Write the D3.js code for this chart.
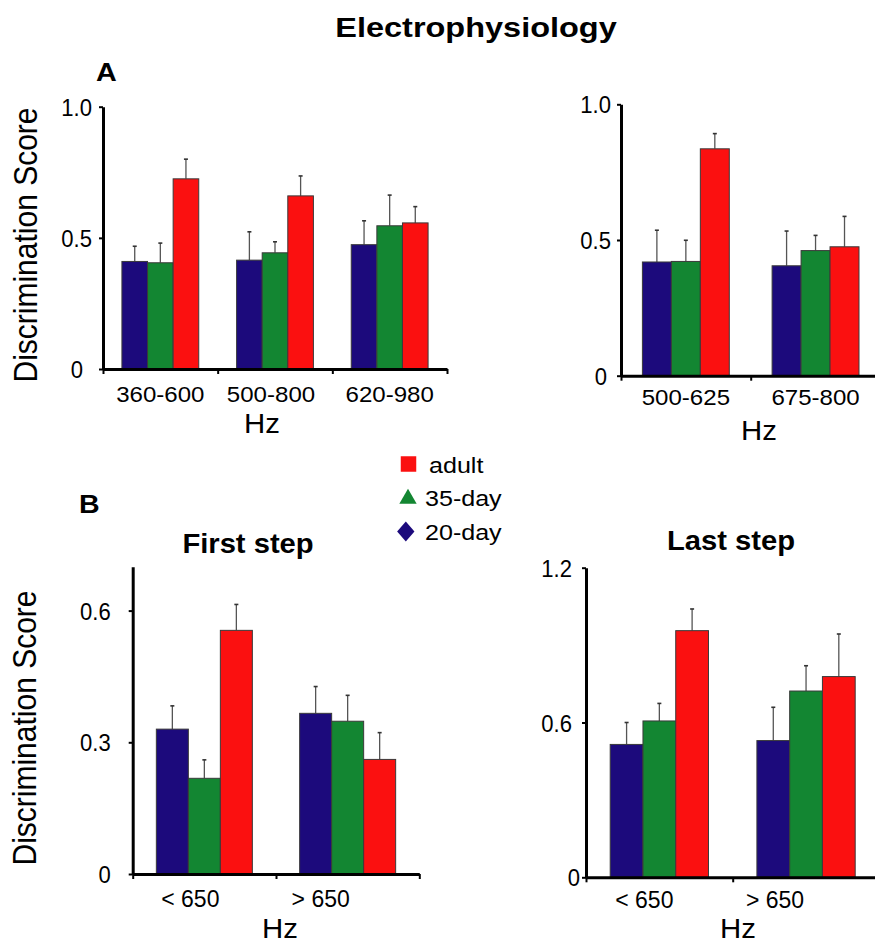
<!DOCTYPE html>
<html>
<head>
<meta charset="utf-8">
<script src="https://cdn.jsdelivr.net/npm/d3@7"></script>
<style>
  body { margin:0; background:#fff; }
  text { font-family: "Liberation Sans", Arial, sans-serif; fill:#000; }
</style>
</head>
<body>
<div id="chart"></div>
<script>
// groups drawn left to right inside each category
const groups = ["20-day", "35-day", "adult"];
const groupColors = ["#1c0a7c", "#138632", "#fb1010"];
const legendLabels = ["adult", "35-day", "20-day"];

// A, left panel
const aLeftCats = ["360-600", "500-800", "620-980"];
const aLeftMeans = [[0.41, 0.405, 0.725], [0.415, 0.443, 0.66], [0.474, 0.546, 0.557]];
const aLeftErrs  = [[0.058, 0.075, 0.075], [0.108, 0.042, 0.076], [0.091, 0.117, 0.062]];

// A, right panel
const aRightCats = ["500-625", "675-800"];
const aRightMeans = [[0.419, 0.421, 0.836], [0.405, 0.461, 0.475]];
const aRightErrs  = [[0.117, 0.078, 0.056], [0.128, 0.056, 0.112]];

// B, first step
const bLeftCats = ["< 650", "> 650"];
const bLeftMeans = [[0.33, 0.218, 0.555], [0.366, 0.348, 0.261]];
const bLeftErrs  = [[0.053, 0.042, 0.059], [0.061, 0.059, 0.061]];

// B, last step
const bRightCats = ["< 650", "> 650"];
const bRightMeans = [[0.515, 0.606, 0.956], [0.53, 0.722, 0.778]];
const bRightErrs  = [[0.085, 0.068, 0.084], [0.129, 0.098, 0.165]];

const aTicks = [0, 0.5, 1.0], aTickLabels = ["0", "0.5", "1.0"];
const bLeftTicks = [0, 0.3, 0.6], bLeftTickLabels = ["0", "0.3", "0.6"];
const bRightTicks = [0, 0.6, 1.2], bRightTickLabels = ["0", "0.6", "1.2"];

const panels = [
  {cats:aLeftCats, means:aLeftMeans, errs:aLeftErrs, ticks:aTicks, tickLabels:aTickLabels, max:1.0,
   x0:103, x1:447, yTop:106.7, yBot:369, tickGap:11, zeroGap:20, labY:32.7, labSize:21.5, labSx:1.12, labDx:[0,-4,0], hz:[262,433]},
  {cats:aRightCats, means:aRightMeans, errs:aRightErrs, ticks:aTicks, tickLabels:aTickLabels, max:1.0,
   x0:621, x1:880.4, yTop:104.3, yBot:375.7, tickGap:10, zeroGap:14, labY:29.5, labSize:21.5, labSx:1.12, labDx:[0,0], hz:[759,440]},
  {cats:bLeftCats, means:bLeftMeans, errs:bLeftErrs, ticks:bLeftTicks, tickLabels:bLeftTickLabels, max:0.7,
   x0:132.7, x1:419.3, yTop:566.7, yBot:874, tickGap:22, zeroGap:22, labY:32.7, labSize:23, labSx:1.0, labDx:[-14,-27], hz:[280,938],
   title:"First step", titlePos:[248,553]},
  {cats:bRightCats, means:bRightMeans, errs:bRightErrs, ticks:bRightTicks, tickLabels:bRightTickLabels, max:1.2,
   x0:586, x1:879.4, yTop:567.7, yBot:877.3, tickGap:14, zeroGap:6, labY:31, labSize:23, labSx:1.0, labDx:[-15,-31], hz:[738,938],
   title:"Last step", titlePos:[731,550]}
];

const svg = d3.select("#chart").append("svg").attr("width", 875).attr("height", 944);

function label(x, y, txt, size, sx, opts = {}) {
  return svg.append("text")
    .attr("transform", `translate(${x},${y}) scale(${sx},1)`)
    .attr("text-anchor", opts.anchor || "middle")
    .attr("font-size", size)
    .attr("font-weight", opts.bold ? "bold" : null)
    .text(txt);
}

label(476, 37, "Electrophysiology", 28, 1.16, {bold:true});
label(96, 81, "A", 25, 1.15, {bold:true, anchor:"start"});
label(79, 513, "B", 26, 1.1, {bold:true, anchor:"start"});

// y axis titles
[[36.5, 245], [36, 728]].forEach(([x, y]) => {
  svg.append("text")
    .attr("transform", `translate(${x},${y}) rotate(-90) scale(1,1.08)`)
    .attr("text-anchor", "middle").attr("font-size", 30)
    .text("Discrimination Score");
});

const tickSx = 0.92;

panels.forEach(p => {
  const x = d3.scaleBand().domain(p.cats).range([p.x0, p.x1]).padding(0);
  const bw = x.bandwidth();
  const inner = d3.scaleBand().domain(groups).range([bw * 0.165, bw * 0.835]).padding(0);
  const y = d3.scaleLinear().domain([0, p.max]).range([p.yBot, p.yTop]);
  const g = svg.append("g");

  const rows = p.cats.flatMap((c, i) => groups.map((grp, j) =>
    ({cat:c, grp:grp, col:groupColors[j], v:p.means[i][j], e:p.errs[i][j]})));

  // error bars (upper half only)
  const eb = g.selectAll(".err").data(rows).join("g").attr("class", "err");
  eb.append("line")
    .attr("x1", d => x(d.cat) + inner(d.grp) + inner.bandwidth() / 2)
    .attr("x2", d => x(d.cat) + inner(d.grp) + inner.bandwidth() / 2)
    .attr("y1", d => y(d.v)).attr("y2", d => y(d.v + d.e))
    .attr("stroke", "#555").attr("stroke-width", 1.3);
  eb.append("line")
    .attr("x1", d => x(d.cat) + inner(d.grp) + inner.bandwidth() / 2 - 2)
    .attr("x2", d => x(d.cat) + inner(d.grp) + inner.bandwidth() / 2 + 2)
    .attr("y1", d => y(d.v + d.e)).attr("y2", d => y(d.v + d.e))
    .attr("stroke", "#333").attr("stroke-width", 1.6);

  g.selectAll(".bar").data(rows).join("rect").attr("class", "bar")
    .attr("x", d => x(d.cat) + inner(d.grp))
    .attr("width", inner.bandwidth())
    .attr("y", d => y(d.v))
    .attr("height", d => y(0) - y(d.v))
    .attr("fill", d => d.col)
    .attr("stroke", "#3a3a3a").attr("stroke-width", 1);

  // y axis
  const ya = g.append("g").attr("transform", `translate(${p.x0},0)`)
    .call(d3.axisLeft(y).tickValues(p.ticks).tickSize(4).tickSizeOuter(0)
      .tickFormat((d, i) => p.tickLabels[i]));
  ya.select(".domain").attr("stroke-width", 3);
  ya.selectAll(".tick line").attr("stroke-width", 2);
  ya.selectAll(".tick text")
    .attr("x", d => (d === 0 ? -p.zeroGap : -p.tickGap) / tickSx)
    .attr("transform", `scale(${tickSx},1)`)
    .attr("dy", "0.36em").attr("font-size", 24)
    .attr("font-family", "Liberation Sans, Arial, sans-serif").attr("fill", "#000");

  // x axis with boundary ticks
  const xi = d3.scaleLinear().domain([0, p.cats.length]).range([p.x0, p.x1]);
  const xa = g.append("g").attr("transform", `translate(0,${p.yBot})`)
    .call(d3.axisBottom(xi).tickValues(d3.range(p.cats.length + 1)).tickFormat("").tickSize(5).tickSizeOuter(0));
  xa.select(".domain").attr("stroke-width", 3);
  xa.selectAll(".tick line").attr("stroke-width", 2);

  const xl = g.append("g").attr("transform", `translate(0,${p.yBot})`)
    .call(d3.axisBottom(x).tickSize(0));
  xl.select(".domain").remove();
  xl.selectAll(".tick text")
    .attr("y", p.labY).attr("dy", 0)
    .attr("x", (d, i) => p.labDx[i] / p.labSx)
    .attr("transform", `scale(${p.labSx},1)`)
    .attr("font-size", p.labSize)
    .attr("font-family", "Liberation Sans, Arial, sans-serif").attr("fill", "#000");

  label(p.hz[0], p.hz[1], "Hz", 28, 1.05);
  if (p.title) label(p.titlePos[0], p.titlePos[1], p.title, 27, 1.08, {bold:true});
});

// legend
const shapes = [d3.symbolSquare, d3.symbolTriangle, d3.symbolSquare];
const legColors = ["#fb1010", "#138632", "#1c0a7c"];
const legY = d3.scaleLinear().domain([0, 2]).range([464, 531.5]);
legendLabels.forEach((t, i) => {
  let tf = `translate(408.5,${legY(i)})`;
  let size = 240;
  if (i === 1) { size = 130; tf = `translate(408,${legY(i) + 1})`; }
  if (i === 2) { size = 150; tf = `translate(405.8,${legY(i)}) scale(1,1.15) rotate(45)`; }
  svg.append("path").attr("d", d3.symbol(shapes[i], size)()).attr("transform", tf).attr("fill", legColors[i]);
  label(i === 0 ? 429 : 425, legY(i) + 8.5, t, 22, 1.14, {anchor:"start"});
});
</script>
</body>
</html>
